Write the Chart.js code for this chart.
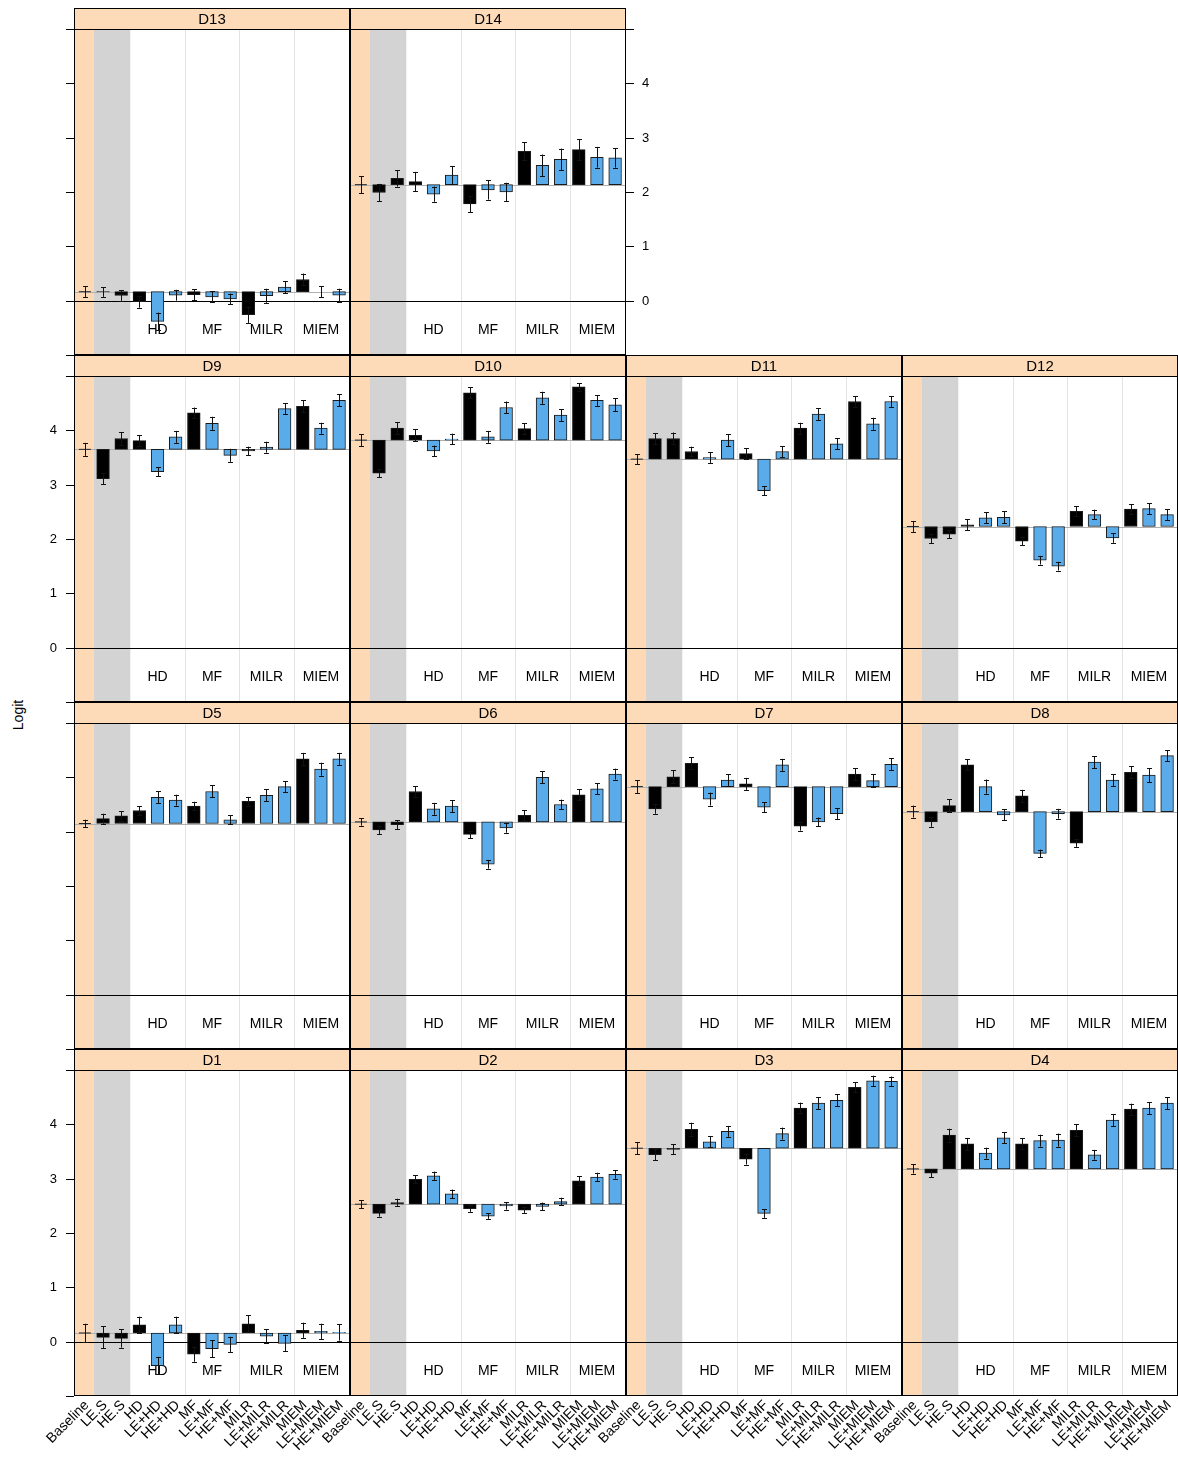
<!DOCTYPE html>
<html>
<head>
<meta charset="utf-8">
<script src="https://cdn.jsdelivr.net/npm/chart.js@4.4.1/dist/chart.umd.min.js"></script>
<style>
  html, body { margin: 0; padding: 0; background: #fff; }
  #page { position: relative; width: 1178px; height: 1458px; overflow: hidden; background: #fff; }
  #page canvas { position: absolute; }
  #ylab { position: absolute; left: 18px; top: 715px; transform: translate(-50%, -50%) rotate(-90deg);
          font: 14px "Liberation Sans", Arial, sans-serif; white-space: nowrap; color: #000; }
</style>
</head>
<body>
<div id="page"><div id="ylab">Logit</div></div>
<script>
// Treatment categories along each panel's x axis
const categories = ['Baseline', 'LE.S', 'HE.S', 'HD', 'LE+HD', 'HE+HD', 'MF', 'LE+MF', 'HE+MF',
                    'MILR', 'LE+MILR', 'HE+MILR', 'MIEM', 'LE+MIEM', 'HE+MIEM'];
// single treatments are black, combined ones blue
const categoryKind = ['base', 'single', 'single', 'single', 'combo', 'combo', 'single', 'combo', 'combo',
                      'single', 'combo', 'combo', 'single', 'combo', 'combo'];
const groupLabels = ['HD', 'MF', 'MILR', 'MIEM'];
const groupCenters = [5, 8, 11, 14];
const groupDividers = [6.5, 9.5, 12.5];
const yTickValues = [-1, 0, 1, 2, 3, 4, 5];
const yTickLabels = ['', '0', '1', '2', '3', '4', ''];

// Estimated logits (first entry is the baseline) and standard errors per item
const d1Mean  = [0.16, 0.08, 0.06, 0.31, -0.44, 0.31, -0.23, -0.13, -0.05, 0.33, 0.10, -0.03, 0.21, 0.19, 0.17];
const d1Se    = [0.17, 0.20, 0.17, 0.15, 0.16, 0.15, 0.14, 0.16, 0.14, 0.16, 0.13, 0.15, 0.14, 0.14, 0.15];
const d2Mean  = [2.53, 2.36, 2.56, 2.99, 3.05, 2.72, 2.45, 2.31, 2.50, 2.42, 2.49, 2.58, 2.96, 3.03, 3.08];
const d2Se    = [0.075, 0.06, 0.07, 0.075, 0.08, 0.08, 0.06, 0.05, 0.07, 0.05, 0.07, 0.07, 0.08, 0.08, 0.08];
const d3Mean  = [3.56, 3.44, 3.54, 3.91, 3.68, 3.87, 3.36, 2.36, 3.83, 4.30, 4.39, 4.44, 4.68, 4.80, 4.79];
const d3Se    = [0.115, 0.10, 0.09, 0.12, 0.10, 0.10, 0.10, 0.08, 0.11, 0.10, 0.11, 0.11, 0.09, 0.095, 0.09];
const d4Mean  = [3.18, 3.10, 3.80, 3.64, 3.47, 3.75, 3.64, 3.70, 3.71, 3.89, 3.44, 4.08, 4.28, 4.30, 4.39];
const d4Se    = [0.085, 0.07, 0.12, 0.11, 0.10, 0.10, 0.10, 0.11, 0.12, 0.11, 0.09, 0.11, 0.10, 0.11, 0.11];
const d5Mean  = [3.15, 3.24, 3.29, 3.39, 3.63, 3.58, 3.47, 3.74, 3.22, 3.56, 3.67, 3.83, 4.34, 4.15, 4.34];
const d5Se    = [0.07, 0.09, 0.085, 0.08, 0.11, 0.10, 0.08, 0.11, 0.08, 0.08, 0.11, 0.10, 0.11, 0.12, 0.11];
const d6Mean  = [3.18, 3.03, 3.13, 3.74, 3.42, 3.47, 2.95, 2.40, 3.07, 3.30, 4.00, 3.50, 3.68, 3.79, 4.06];
const d6Se    = [0.07, 0.08, 0.08, 0.10, 0.11, 0.11, 0.07, 0.08, 0.09, 0.09, 0.11, 0.09, 0.10, 0.10, 0.10];
const d7Mean  = [3.83, 3.42, 4.01, 4.26, 3.60, 3.95, 3.88, 3.45, 4.23, 3.10, 3.18, 3.33, 4.06, 3.94, 4.24];
const d7Se    = [0.12, 0.09, 0.12, 0.11, 0.12, 0.11, 0.11, 0.09, 0.11, 0.08, 0.08, 0.10, 0.11, 0.12, 0.11];
const d8Mean  = [3.37, 3.18, 3.48, 4.23, 3.83, 3.31, 3.66, 2.60, 3.33, 2.79, 4.28, 3.95, 4.09, 4.04, 4.40];
const d8Se    = [0.11, 0.09, 0.12, 0.10, 0.13, 0.10, 0.11, 0.07, 0.09, 0.07, 0.11, 0.11, 0.11, 0.13, 0.10];
const d9Mean  = [3.65, 3.11, 3.85, 3.81, 3.24, 3.88, 4.32, 4.13, 3.54, 3.62, 3.69, 4.40, 4.44, 4.04, 4.55];
const d9Se    = [0.12, 0.10, 0.12, 0.10, 0.08, 0.11, 0.10, 0.12, 0.12, 0.08, 0.10, 0.10, 0.11, 0.10, 0.11];
const d10Mean = [3.82, 3.21, 4.04, 3.91, 3.62, 3.84, 4.69, 3.88, 4.42, 4.03, 4.60, 4.28, 4.80, 4.55, 4.47];
const d10Se   = [0.11, 0.07, 0.11, 0.11, 0.10, 0.10, 0.10, 0.11, 0.11, 0.10, 0.11, 0.11, 0.07, 0.10, 0.12];
const d11Mean = [3.47, 3.85, 3.85, 3.61, 3.50, 3.82, 3.57, 2.89, 3.61, 4.04, 4.30, 3.75, 4.53, 4.12, 4.53];
const d11Se   = [0.09, 0.10, 0.11, 0.09, 0.10, 0.11, 0.10, 0.08, 0.10, 0.10, 0.11, 0.10, 0.10, 0.11, 0.10];
const d12Mean = [2.23, 2.01, 2.09, 2.26, 2.39, 2.40, 1.96, 1.61, 1.50, 2.51, 2.45, 2.02, 2.55, 2.56, 2.45];
const d12Se   = [0.10, 0.09, 0.08, 0.10, 0.10, 0.11, 0.07, 0.08, 0.08, 0.09, 0.09, 0.09, 0.09, 0.10, 0.10];
const d13Mean = [0.165, 0.16, 0.095, -0.02, -0.38, 0.10, 0.11, 0.07, 0.03, -0.26, 0.09, 0.25, 0.39, 0.165, 0.10];
const d13Se   = [0.10, 0.09, 0.10, 0.11, 0.16, 0.10, 0.10, 0.10, 0.10, 0.15, 0.13, 0.11, 0.11, 0.10, 0.12];
const d14Mean = [2.135, 1.99, 2.25, 2.19, 1.96, 2.31, 1.78, 2.04, 2.00, 2.75, 2.49, 2.60, 2.78, 2.64, 2.63];
const d14Se   = [0.16, 0.16, 0.15, 0.18, 0.14, 0.17, 0.15, 0.18, 0.17, 0.17, 0.20, 0.20, 0.19, 0.19, 0.18];

// Panel grid (row 0 = top)
const panels = [
  { name: 'D13', mean: d13Mean, se: d13Se, row: 0, col: 0 },
  { name: 'D14', mean: d14Mean, se: d14Se, row: 0, col: 1 },
  { name: 'D9',  mean: d9Mean,  se: d9Se,  row: 1, col: 0 },
  { name: 'D10', mean: d10Mean, se: d10Se, row: 1, col: 1 },
  { name: 'D11', mean: d11Mean, se: d11Se, row: 1, col: 2 },
  { name: 'D12', mean: d12Mean, se: d12Se, row: 1, col: 3 },
  { name: 'D5',  mean: d5Mean,  se: d5Se,  row: 2, col: 0 },
  { name: 'D6',  mean: d6Mean,  se: d6Se,  row: 2, col: 1 },
  { name: 'D7',  mean: d7Mean,  se: d7Se,  row: 2, col: 2 },
  { name: 'D8',  mean: d8Mean,  se: d8Se,  row: 2, col: 3 },
  { name: 'D1',  mean: d1Mean,  se: d1Se,  row: 3, col: 0 },
  { name: 'D2',  mean: d2Mean,  se: d2Se,  row: 3, col: 1 },
  { name: 'D3',  mean: d3Mean,  se: d3Se,  row: 3, col: 2 },
  { name: 'D4',  mean: d4Mean,  se: d4Se,  row: 3, col: 3 }
];

// Layout constants
const PANEL_W = 276, PANEL_H = 326, STRIP_H = 21;
const PANEL_LEFT0 = 74, ROW_TOPS = [29, 376, 723, 1070];
const PAD = { left: 74, right: 60, top: STRIP_H, bottom: 62 };
const X_MIN = 0.4, X_MAX = 15.6;
const FONT = '"Liberation Sans", Arial, sans-serif';
const PEACH = '#fdd9b6', STRIP_BG = '#fddbb9', BAND_GRAY = '#d3d3d3', BLUE = '#5aabea';

function hline(ctx, x1, x2, y) { ctx.beginPath(); ctx.moveTo(x1, y); ctx.lineTo(x2, y); ctx.stroke(); }
function vline(ctx, x, y1, y2) { ctx.beginPath(); ctx.moveTo(x, y1); ctx.lineTo(x, y2); ctx.stroke(); }

const panelDecor = {
  id: 'panelDecor',
  beforeDatasetsDraw(chart, args, o) {
    const { ctx, chartArea: a, scales: { x, y } } = chart;
    ctx.save();
    // baseline column and single-treatment band
    const b1 = x.getPixelForValue(1.5), b2 = x.getPixelForValue(3.5);
    ctx.fillStyle = PEACH;
    ctx.fillRect(a.left, a.top, b1 - a.left, a.height);
    ctx.fillStyle = BAND_GRAY;
    ctx.fillRect(b1, a.top, b2 - b1, a.height);
    // group dividers
    ctx.strokeStyle = '#e3e3e3';
    ctx.lineWidth = 1;
    groupDividers.forEach(g => {
      const px = Math.round(x.getPixelForValue(g)) + 0.5;
      vline(ctx, px, a.top, a.bottom);
    });
    // group names
    ctx.fillStyle = '#000';
    ctx.font = '14px ' + FONT;
    ctx.textAlign = 'center';
    ctx.textBaseline = 'middle';
    groupLabels.forEach((g, i) => ctx.fillText(g, x.getPixelForValue(groupCenters[i]), y.getPixelForValue(-0.5) + 2));
    // zero reference
    ctx.strokeStyle = '#000';
    hline(ctx, a.left, a.right, Math.round(y.getPixelForValue(0)) + 0.5);
    // baseline reference
    ctx.strokeStyle = '#b0b0b0';
    hline(ctx, a.left, a.right, Math.round(y.getPixelForValue(o.mean[0])) + 0.5);
    ctx.restore();
  },
  afterDatasetsDraw(chart, args, o) {
    const { ctx, chartArea: a, scales: { x, y } } = chart;
    ctx.save();
    // error bars
    ctx.strokeStyle = '#111';
    ctx.lineWidth = 1;
    o.mean.forEach((m, i) => {
      const cx = Math.round(x.getPixelForValue(i + 1)) + 0.5;
      const yt = y.getPixelForValue(m + o.se[i]);
      const yb = y.getPixelForValue(m - o.se[i]);
      vline(ctx, cx, yt, yb);
      hline(ctx, cx - 2.5, cx + 2.5, Math.round(yt) + 0.5);
      hline(ctx, cx - 2.5, cx + 2.5, Math.round(yb) + 0.5);
    });
    // panel border
    ctx.strokeStyle = '#000';
    ctx.strokeRect(a.left + 0.5, a.top + 0.5, a.width - 1, a.height - 1);
    // strip
    ctx.fillStyle = STRIP_BG;
    ctx.fillRect(a.left, a.top - STRIP_H, a.width, STRIP_H);
    ctx.strokeRect(a.left + 0.5, a.top - STRIP_H + 0.5, a.width - 1, STRIP_H);
    ctx.fillStyle = '#000';
    ctx.font = '15px ' + FONT;
    ctx.textAlign = 'center';
    ctx.textBaseline = 'middle';
    ctx.fillText(o.name, (a.left + a.right) / 2, a.top - STRIP_H / 2 + 1);
    // y axis ticks
    ctx.font = '13px ' + FONT;
    ctx.textBaseline = 'middle';
    if (o.leftTicks) {
      ctx.textAlign = 'right';
      yTickValues.forEach((v, i) => {
        const py = Math.round(y.getPixelForValue(v)) + 0.5;
        hline(ctx, a.left - 8, a.left, py);
        if (o.leftLabels) ctx.fillText(yTickLabels[i], a.left - 17, py);
      });
    }
    if (o.rightTicks) {
      ctx.textAlign = 'left';
      yTickValues.forEach((v, i) => {
        const py = Math.round(y.getPixelForValue(v)) + 0.5;
        hline(ctx, a.right, a.right + 8, py);
        ctx.fillText(yTickLabels[i], a.right + 16, py);
      });
    }
    // rotated category labels
    if (o.bottomLabels) {
      ctx.font = '14px ' + FONT;
      ctx.textAlign = 'right';
      ctx.textBaseline = 'middle';
      categories.forEach((c, i) => {
        ctx.save();
        ctx.translate(x.getPixelForValue(i + 1) + 2, a.bottom + 7);
        ctx.rotate(-Math.PI / 4);
        ctx.fillText(c, 0, 0);
        ctx.restore();
      });
    }
    ctx.restore();
  }
};

const page = document.getElementById('page');
const unitPx = PANEL_W / (X_MAX - X_MIN);

panels.forEach(p => {
  const cv = document.createElement('canvas');
  const w = PAD.left + PANEL_W + PAD.right;
  const h = PAD.top + PANEL_H + PAD.bottom;
  cv.width = w; cv.height = h;
  cv.style.width = w + 'px'; cv.style.height = h + 'px';
  cv.style.left = (PANEL_LEFT0 + PANEL_W * p.col - PAD.left) + 'px';
  cv.style.top = (ROW_TOPS[p.row] - PAD.top) + 'px';
  page.appendChild(cv);

  const bars = [], fills = [];
  for (let i = 1; i < categories.length; i++) {
    bars.push({ x: i + 1, y: [p.mean[0], p.mean[i]] });
    fills.push(categoryKind[i] === 'single' ? '#000' : BLUE);
  }

  new Chart(cv, {
    type: 'bar',
    data: {
      datasets: [
        { type: 'bar', data: bars, backgroundColor: fills, borderColor: '#1a1a1a', borderWidth: 1,
          borderSkipped: false, barThickness: 0.7 * unitPx, order: 2 },
        { type: 'scatter', data: [{ x: 1, y: p.mean[0] }], pointStyle: 'line', pointRadius: 6,
          borderColor: '#222', borderWidth: 1, order: 1 }
      ]
    },
    options: {
      responsive: false,
      animation: false,
      devicePixelRatio: 1,
      events: [],
      layout: { padding: PAD },
      scales: {
        x: { type: 'linear', min: X_MIN, max: X_MAX, display: false, offset: false },
        y: { type: 'linear', min: -1, max: 5, display: false }
      },
      plugins: {
        legend: { display: false },
        tooltip: { enabled: false },
        panelDecor: {
          name: p.name, mean: p.mean, se: p.se,
          leftTicks: p.col === 0,
          leftLabels: p.col === 0 && (p.row === 1 || p.row === 3),
          rightTicks: p.name === 'D14',
          bottomLabels: p.row === 3
        }
      }
    },
    plugins: [panelDecor]
  });
});
</script>
</body>
</html>
